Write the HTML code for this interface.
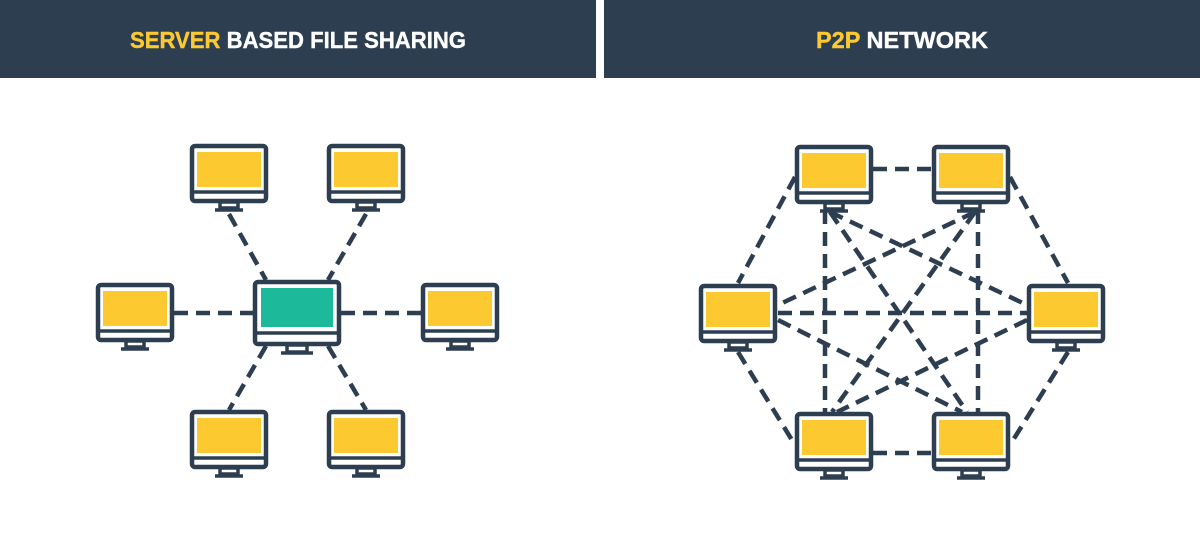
<!DOCTYPE html>
<html><head><meta charset="utf-8"><style>html,body{margin:0;padding:0;background:#fff}svg{display:block}</style></head>
<body>
<svg width="1200" height="546" viewBox="0 0 1200 546" xmlns="http://www.w3.org/2000/svg">
<defs>
<g id="mon">
<rect x="-37" y="-27" width="74" height="55" rx="3" fill="#fff" stroke="#2d3e50" stroke-width="4.5"/>
<rect x="-32" y="-21" width="64" height="35" fill="#fcc931"/>
<line x1="-37" y1="19" x2="37" y2="19" stroke="#2d3e50" stroke-width="3.5"/>
<rect x="-9" y="29" width="18" height="6" fill="#fff" stroke="#2d3e50" stroke-width="3.5"/>
<line x1="-14" y1="37" x2="14" y2="37" stroke="#2d3e50" stroke-width="3.5"/>
</g>
</defs>
<rect x="0" y="0" width="596" height="78" fill="#2d3e50"/>
<rect x="604" y="0" width="596" height="78" fill="#2d3e50"/>
<text x="130" y="48" textLength="336" lengthAdjust="spacingAndGlyphs" font-family="Liberation Sans, sans-serif" font-weight="bold" font-size="23" fill="#fff" stroke="#fff" stroke-width="0.4"><tspan fill="#fcc931" stroke="#fcc931">SERVER</tspan> BASED FILE SHARING</text>
<text x="816" y="48" textLength="172" lengthAdjust="spacingAndGlyphs" font-family="Liberation Sans, sans-serif" font-weight="bold" font-size="23" fill="#fff" stroke="#fff" stroke-width="0.4"><tspan fill="#fcc931" stroke="#fcc931">P2P</tspan> NETWORK</text>

<g stroke="#2d3e50" stroke-width="4.5" stroke-dasharray="14 8" fill="none">
<line x1="229" y1="214" x2="266" y2="280"/>
<line x1="366" y1="214" x2="328" y2="280"/>
<line x1="174" y1="313" x2="253" y2="313"/>
<line x1="341" y1="313" x2="421" y2="313"/>
<line x1="266" y1="346" x2="229" y2="410"/>
<line x1="328" y1="346" x2="366" y2="410"/>

<line x1="873" y1="169" x2="932" y2="169"/>
<line x1="873" y1="453" x2="932" y2="453"/>
<line x1="795" y1="177" x2="738" y2="283"/>
<line x1="1010" y1="177" x2="1068" y2="283"/>
<line x1="738" y1="352" x2="795" y2="445"/>
<line x1="1068" y1="352" x2="1010" y2="445"/>
<line x1="825" y1="210" x2="825" y2="412"/>
<line x1="978" y1="210" x2="978" y2="412"/>
<line x1="778" y1="313" x2="1027" y2="313"/>
<line x1="830" y1="212" x2="1027" y2="305"/>
<line x1="830" y1="212" x2="967" y2="412"/>
<line x1="975" y1="212" x2="778" y2="305"/>
<line x1="975" y1="212" x2="832" y2="412"/>
<line x1="1027" y1="320" x2="837" y2="412"/>
<line x1="778" y1="320" x2="962" y2="412"/>
</g>

<use href="#mon" x="229" y="173"/>
<use href="#mon" x="366" y="173"/>
<use href="#mon" x="135" y="312"/>
<use href="#mon" x="460" y="312"/>
<use href="#mon" x="229" y="439"/>
<use href="#mon" x="366" y="439"/>
<g transform="translate(297,312)">
<rect x="-42" y="-30" width="84" height="62" rx="3" fill="#fff" stroke="#2d3e50" stroke-width="4.5"/>
<rect x="-36" y="-24" width="72" height="39" fill="#1cb99a"/>
<line x1="-42" y1="21" x2="42" y2="21" stroke="#2d3e50" stroke-width="3.5"/>
<rect x="-10" y="33" width="20" height="7" fill="#fff" stroke="#2d3e50" stroke-width="3.5"/>
<line x1="-16" y1="41" x2="16" y2="41" stroke="#2d3e50" stroke-width="3.5"/>
</g>

<use href="#mon" x="834" y="174"/>
<use href="#mon" x="971" y="174"/>
<use href="#mon" x="738" y="313"/>
<use href="#mon" x="1066" y="313"/>
<use href="#mon" x="834" y="441"/>
<use href="#mon" x="971" y="441"/>
</svg>
</body></html>
